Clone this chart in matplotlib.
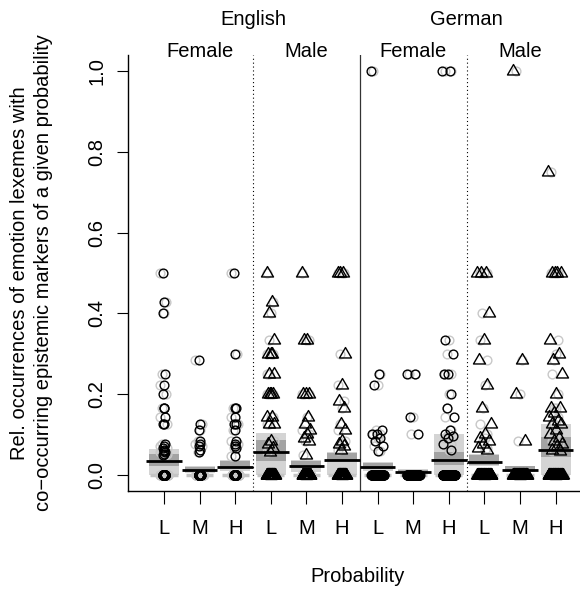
import numpy as np
import matplotlib.pyplot as plt
from matplotlib.path import Path

plt.rcParams['font.family'] = ['Liberation Sans', 'DejaVu Sans']

languages = ['English', 'German']
genders = ['Female', 'Male']
levels = ['L', 'M', 'H']

# relative occurrences per speaker, one list per language / gender / probability level
en_female_L = [0.5, 0.4286, 0.4, 0.25, 0.2222, 0.2, 0.1667, 0.1667, 0.1429, 0.125, 0.125,
               0.0769, 0.0714, 0.0667, 0.0625, 0.0588, 0.0556, 0.0526, 0.05] + [0.0] * 40
en_female_M = [0.2857, 0.125, 0.1111, 0.0833, 0.0769, 0.0714, 0.0625, 0.0556] + [0.0] * 40
en_female_H = [0.5, 0.3, 0.1667, 0.1667, 0.1429, 0.125, 0.125, 0.1111, 0.0833, 0.0769,
               0.0714, 0.0667, 0.0455] + [0.0] * 40
en_male_L = [0.5, 0.4286, 0.4, 0.3333, 0.3, 0.3, 0.3, 0.25, 0.25, 0.2, 0.2, 0.2, 0.2,
             0.1429, 0.1429, 0.125, 0.125, 0.0833, 0.0769, 0.0667, 0.0556] + [0.0] * 50
en_male_M = [0.5, 0.3333, 0.3333, 0.2, 0.2, 0.2, 0.1429, 0.125, 0.1111, 0.1, 0.0909,
             0.0833, 0.05] + [0.0] * 50
en_male_H = [0.5, 0.5, 0.5, 0.3, 0.2222, 0.1818, 0.1667, 0.125, 0.1111, 0.0833, 0.0769,
             0.0714, 0.0625] + [0.0] * 50
de_female_L = [1.0, 0.25, 0.2222, 0.1111, 0.1, 0.1, 0.0909, 0.0833, 0.0714, 0.0588] + [0.0] * 60
de_female_M = [0.25, 0.25, 0.1429, 0.1] + [0.0] * 60
de_female_H = [1.0, 1.0, 0.3333, 0.3, 0.25, 0.25, 0.2, 0.1667, 0.1429, 0.1111, 0.1, 0.0952,
               0.0909, 0.0769, 0.0625] + [0.0] * 60
de_male_L = [0.5, 0.5, 0.5, 0.4, 0.3333, 0.2857, 0.2222, 0.1667, 0.125, 0.1, 0.0909,
             0.0833, 0.0769, 0.0667, 0.0625] + [0.0] * 60
de_male_M = [1.0, 0.2857, 0.2, 0.0833] + [0.0] * 60
de_male_H = [0.75, 0.5, 0.5, 0.5, 0.5, 0.3333, 0.3, 0.2857, 0.25, 0.2, 0.1667, 0.1667,
             0.1538, 0.1429, 0.1333, 0.125, 0.125, 0.1111, 0.1, 0.0909, 0.0833, 0.0769,
             0.0714, 0.0625, 0.0588] + [0.0] * 60

groups = [en_female_L, en_female_M, en_female_H, en_male_L, en_male_M, en_male_H,
          de_female_L, de_female_M, de_female_H, de_male_L, de_male_M, de_male_H]

# group means and the two inference intervals
avg_line = [0.034, 0.013, 0.020, 0.057, 0.022, 0.036, 0.019, 0.008, 0.037, 0.033, 0.012, 0.062]
inf_low = [0.000, 0.004, 0.010, 0.000, 0.008, 0.000, 0.010, 0.004, 0.000, 0.023, 0.007, 0.000]
inf_high = [0.064, 0.021, 0.036, 0.104, 0.036, 0.057, 0.031, 0.015, 0.101, 0.052, 0.023, 0.126]
band_low = [0.023, 0.008, 0.016, 0.035, 0.017, 0.034, 0.014, 0.005, 0.025, 0.024, 0.008, 0.043]
band_high = [0.052, 0.019, 0.034, 0.087, 0.034, 0.054, 0.029, 0.013, 0.056, 0.050, 0.021, 0.093]

# horizontal spread of the black points for each language/gender panel
spread_black = {('English', 'Female'): 0.03, ('English', 'Male'): 0.11,
                ('German', 'Female'): 0.18, ('German', 'Male'): 0.20}
spread_grey = 0.12
fs = 14.5

triangle = Path([(-0.866, -0.5), (0.866, -0.5), (0.0, 1.0), (-0.866, -0.5)],
                [Path.MOVETO, Path.LINETO, Path.LINETO, Path.CLOSEPOLY])


def offsets(n, width, step):
    k = np.arange(n)
    return ((k * step) % 1.0 - 0.5) * 2 * width


fig = plt.figure(figsize=(5.8, 5.89), dpi=100)
ax = fig.add_axes([128.4 / 580, 98 / 589, 462.8 / 580, 436 / 589])

pos = np.arange(1, 13)
half_box = 0.42
i = 0
for lang in languages:
    for gen in genders:
        for lev in levels:
            vals = np.array(groups[i])
            x = pos[i]
            ax.fill_between([x - half_box, x + half_box], inf_low[i], inf_high[i],
                            color='#d4d4d4', lw=0, zorder=1)
            ax.fill_between([x - half_box, x + half_box], band_low[i], band_high[i],
                            color='#a3a3a3', lw=0, zorder=1.5)
            # flat density outline along zero
            ax.hlines(0, x - 0.38, x + 0.38, color='#c4c4c4', lw=2.5, zorder=2)
            ax.plot(x + offsets(len(vals), spread_grey, 0.7548776662), vals, 'o',
                    ms=6.3, mfc='none', mec='#c8c8c8', mew=1.0, zorder=2)
            mk = 'o' if gen == 'Female' else triangle
            ms = 6.3 if gen == 'Female' else 10
            ax.plot(x + offsets(len(vals), spread_black[(lang, gen)], 0.6180339887), vals,
                    ls='none', marker=mk, ms=ms, mfc='none', mec='black', mew=1.0, zorder=3)
            ax.hlines(avg_line[i], x - 0.5, x + 0.5, color='black', lw=2.0, zorder=4)
            i += 1

ax.axvline(3.5, color='black', lw=0.8, ls=(0, (1, 2.5)), zorder=0)
ax.axvline(6.5, color='#333333', lw=0.9, zorder=0)
ax.axvline(9.5, color='black', lw=0.8, ls=(0, (1, 2.5)), zorder=0)

ax.set_xlim(0, 13)
ax.set_ylim(-0.04, 1.04)
for side in ['top', 'right']:
    ax.spines[side].set_visible(False)
for side in ['left', 'bottom']:
    ax.spines[side].set_linewidth(1.0)

ax.set_xticks(pos)
ax.set_xticklabels(levels * 4, fontsize=fs)
ax.tick_params(axis='x', length=9.5, width=0.8, pad=11)
ax.set_yticks(np.arange(0, 1.01, 0.2))
ax.set_yticklabels(['%.1f' % v for v in np.arange(0, 1.01, 0.2)], fontsize=fs,
                   rotation=90, va='center')
ax.tick_params(axis='y', length=8, width=0.8, pad=8)

top = ax.get_xaxis_transform()
for j, lang in enumerate(languages):
    ax.text(3.5 + 6 * j, 1.0688, lang, transform=top, ha='center', va='baseline', fontsize=fs)
    for k, gen in enumerate(genders):
        ax.text(2 + 6 * j + 3 * k, 0.9954, gen, transform=top, ha='center', va='baseline',
                fontsize=fs)

fig.text(20 / 580, 1 - 273 / 589, 'Rel. occurrences of emotion lexemes with',
         rotation=90, ha='center', va='center', fontsize=fs)
fig.text(44 / 580, 1 - 273 / 589, 'co\u2212occurring epistemic markers of a given probability',
         rotation=90, ha='center', va='center', fontsize=fs)
fig.text(358 / 580, 1 - 577 / 589, 'Probability', ha='center', va='center', fontsize=fs)

fig.savefig('out.png', dpi=100)
